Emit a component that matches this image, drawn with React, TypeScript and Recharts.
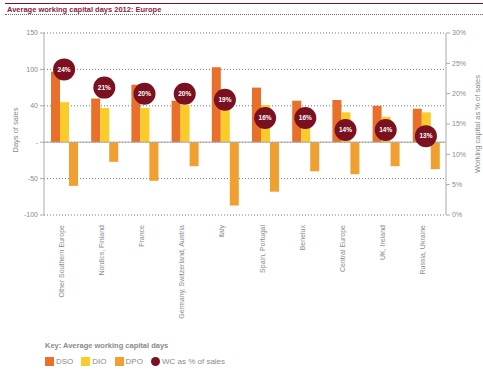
import { ComposedChart, Bar, Line, XAxis, YAxis, CartesianGrid, ReferenceLine } from 'recharts'

const regions = [
  'Other Southern Europe', 'Nordics, Finland', 'France', 'Germany, Switzerland, Austria', 'Italy',
  'Spain, Portugal', 'Benelux', 'Central Europe', 'UK, Ireland', 'Russia, Ukraine',
]
const dso = [97, 60, 79, 57, 103, 75, 57, 58, 50, 46]
const dio = [55, 47, 47, 51, 52, 51, 47, 41, 35, 41]
const dpo = [-60, -27, -53, -33, -87, -68, -40, -44, -33, -37]
const wcPct = [24, 21, 20, 20, 19, 16, 16, 14, 14, 13]

const leftTicks = [-100, -50, 0, 50, 100, 150]
const leftTickLabels = ['-100', '-50', '-', '40', '100', '150']
const rightTicks = [0, 5, 10, 15, 20, 25, 30]

const data = regions.map((r, i) => ({ region: r, dso: dso[i], dio: dio[i], dpo: dpo[i], wc: wcPct[i] }))

const C_DSO = '#e8702a'
const C_DIO = '#fbcb2a'
const C_DPO = '#f0a030'
const C_WC = '#7a1020'
const GREY = '#8a8a8a'
const FONT = '"Liberation Sans", Arial, sans-serif'

const RegionTick = (p: any) => {
  const { x, y, payload } = p
  const ty = y + 2
  return (
    <text x={x - 3} y={ty} transform={`rotate(-90 ${x - 3} ${ty})`} textAnchor="end" dy="0.35em"
      fontSize={7} fill={GREY} fontFamily={FONT}>
      {payload.value}
    </text>
  )
}

const WcDot = (p: any) => {
  const { cx, cy, payload } = p
  if (cx == null || cy == null) return null
  return (
    <g key={payload.region}>
      <circle cx={cx} cy={cy} r={11} fill={C_WC} />
      <text x={cx} y={cy} dy="0.35em" textAnchor="middle" fontSize={6.5} fontWeight="bold"
        fill="#fff" fontFamily={FONT}>{payload.wc}%</text>
    </g>
  )
}

const AxisTitle = ({ x, y, text }: { x: number; y: number; text: string }) => (
  <text x={x} y={y} transform={`rotate(-90 ${x} ${y})`} textAnchor="middle" dy="0.35em"
    fontSize={7.5} fill={GREY} fontFamily={FONT}>{text}</text>
)

const Swatch = ({ color, label, round }: { color: string; label: string; round?: boolean }) => (
  <span style={{ display: 'inline-flex', alignItems: 'center', marginRight: 8 }}>
    <span style={{ width: 9, height: 9, background: color, borderRadius: round ? '50%' : 0, marginRight: 2 }} />
    {label}
  </span>
)

export default function App() {
  return (
    <div style={{ position: 'absolute', left: 0, top: 0, width: 483, height: 370, background: '#fff', fontFamily: FONT, overflow: 'hidden' }}>
      <div style={{ position: 'absolute', left: 5, right: 0, top: 3, borderTop: `1px solid ${C_WC}` }} />
      <div style={{ position: 'absolute', left: 7, top: 5, fontSize: 7.5, fontWeight: 'bold', color: '#8c1c3c' }}>
        Average working capital days 2012: Europe
      </div>
      <div style={{ position: 'absolute', left: 5, right: 0, top: 14, borderTop: '1px dotted #666' }} />

      <div style={{ position: 'absolute', left: 0, top: 0 }}>
        <ComposedChart width={483} height={370} data={data}
          margin={{ top: 33, right: 0, bottom: 0, left: 0 }}
          barSize={9} barGap={0}>
          <CartesianGrid vertical={false} yAxisId="left" stroke="#777" strokeDasharray="1 2" />
          <XAxis dataKey="region" height={155} axisLine={false} tickLine={false} interval={0}
            tick={<RegionTick />} />
          <YAxis yAxisId="left" width={44} domain={[-100, 150]} ticks={leftTicks}
            tickFormatter={(v: number) => leftTickLabels[leftTicks.indexOf(v)]}
            axisLine={{ stroke: '#aaa' }} tickLine={{ stroke: '#aaa' }} tickSize={4} tickMargin={2}
            tick={{ fontSize: 7, fill: GREY, fontFamily: FONT }}
            label={{ content: () => <AxisTitle x={15} y={130} text="Days of sales" /> }} />
          <YAxis yAxisId="right" orientation="right" width={37} domain={[0, 30]} ticks={rightTicks}
            tickFormatter={(v: number) => `${v}%`}
            axisLine={{ stroke: '#aaa' }} tickLine={{ stroke: '#aaa' }} tickSize={4} tickMargin={2}
            tick={{ fontSize: 7, fill: GREY, fontFamily: FONT }}
            label={{ content: () => <AxisTitle x={477} y={124} text="Working capital as % of sales" /> }} />
          <ReferenceLine yAxisId="left" y={0} stroke="#aaa" />
          <Bar yAxisId="left" dataKey="dso" fill={C_DSO} isAnimationActive={false} />
          <Bar yAxisId="left" dataKey="dio" fill={C_DIO} isAnimationActive={false} />
          <Bar yAxisId="left" dataKey="dpo" fill={C_DPO} isAnimationActive={false} />
          <Line yAxisId="right" dataKey="wc" stroke="none" dot={<WcDot />} activeDot={false} isAnimationActive={false} />
        </ComposedChart>
      </div>

      <div style={{ position: 'absolute', left: 45, top: 341, fontSize: 7.5, fontWeight: 'bold', color: GREY }}>
        Key: Average working capital days
      </div>
      <div style={{ position: 'absolute', left: 45, top: 357, fontSize: 8, color: GREY, display: 'flex' }}>
        <Swatch color={C_DSO} label="DSO" />
        <Swatch color={C_DIO} label="DIO" />
        <Swatch color={C_DPO} label="DPO" />
        <Swatch color={C_WC} label="WC as % of sales" round />
      </div>
    </div>
  )
}
